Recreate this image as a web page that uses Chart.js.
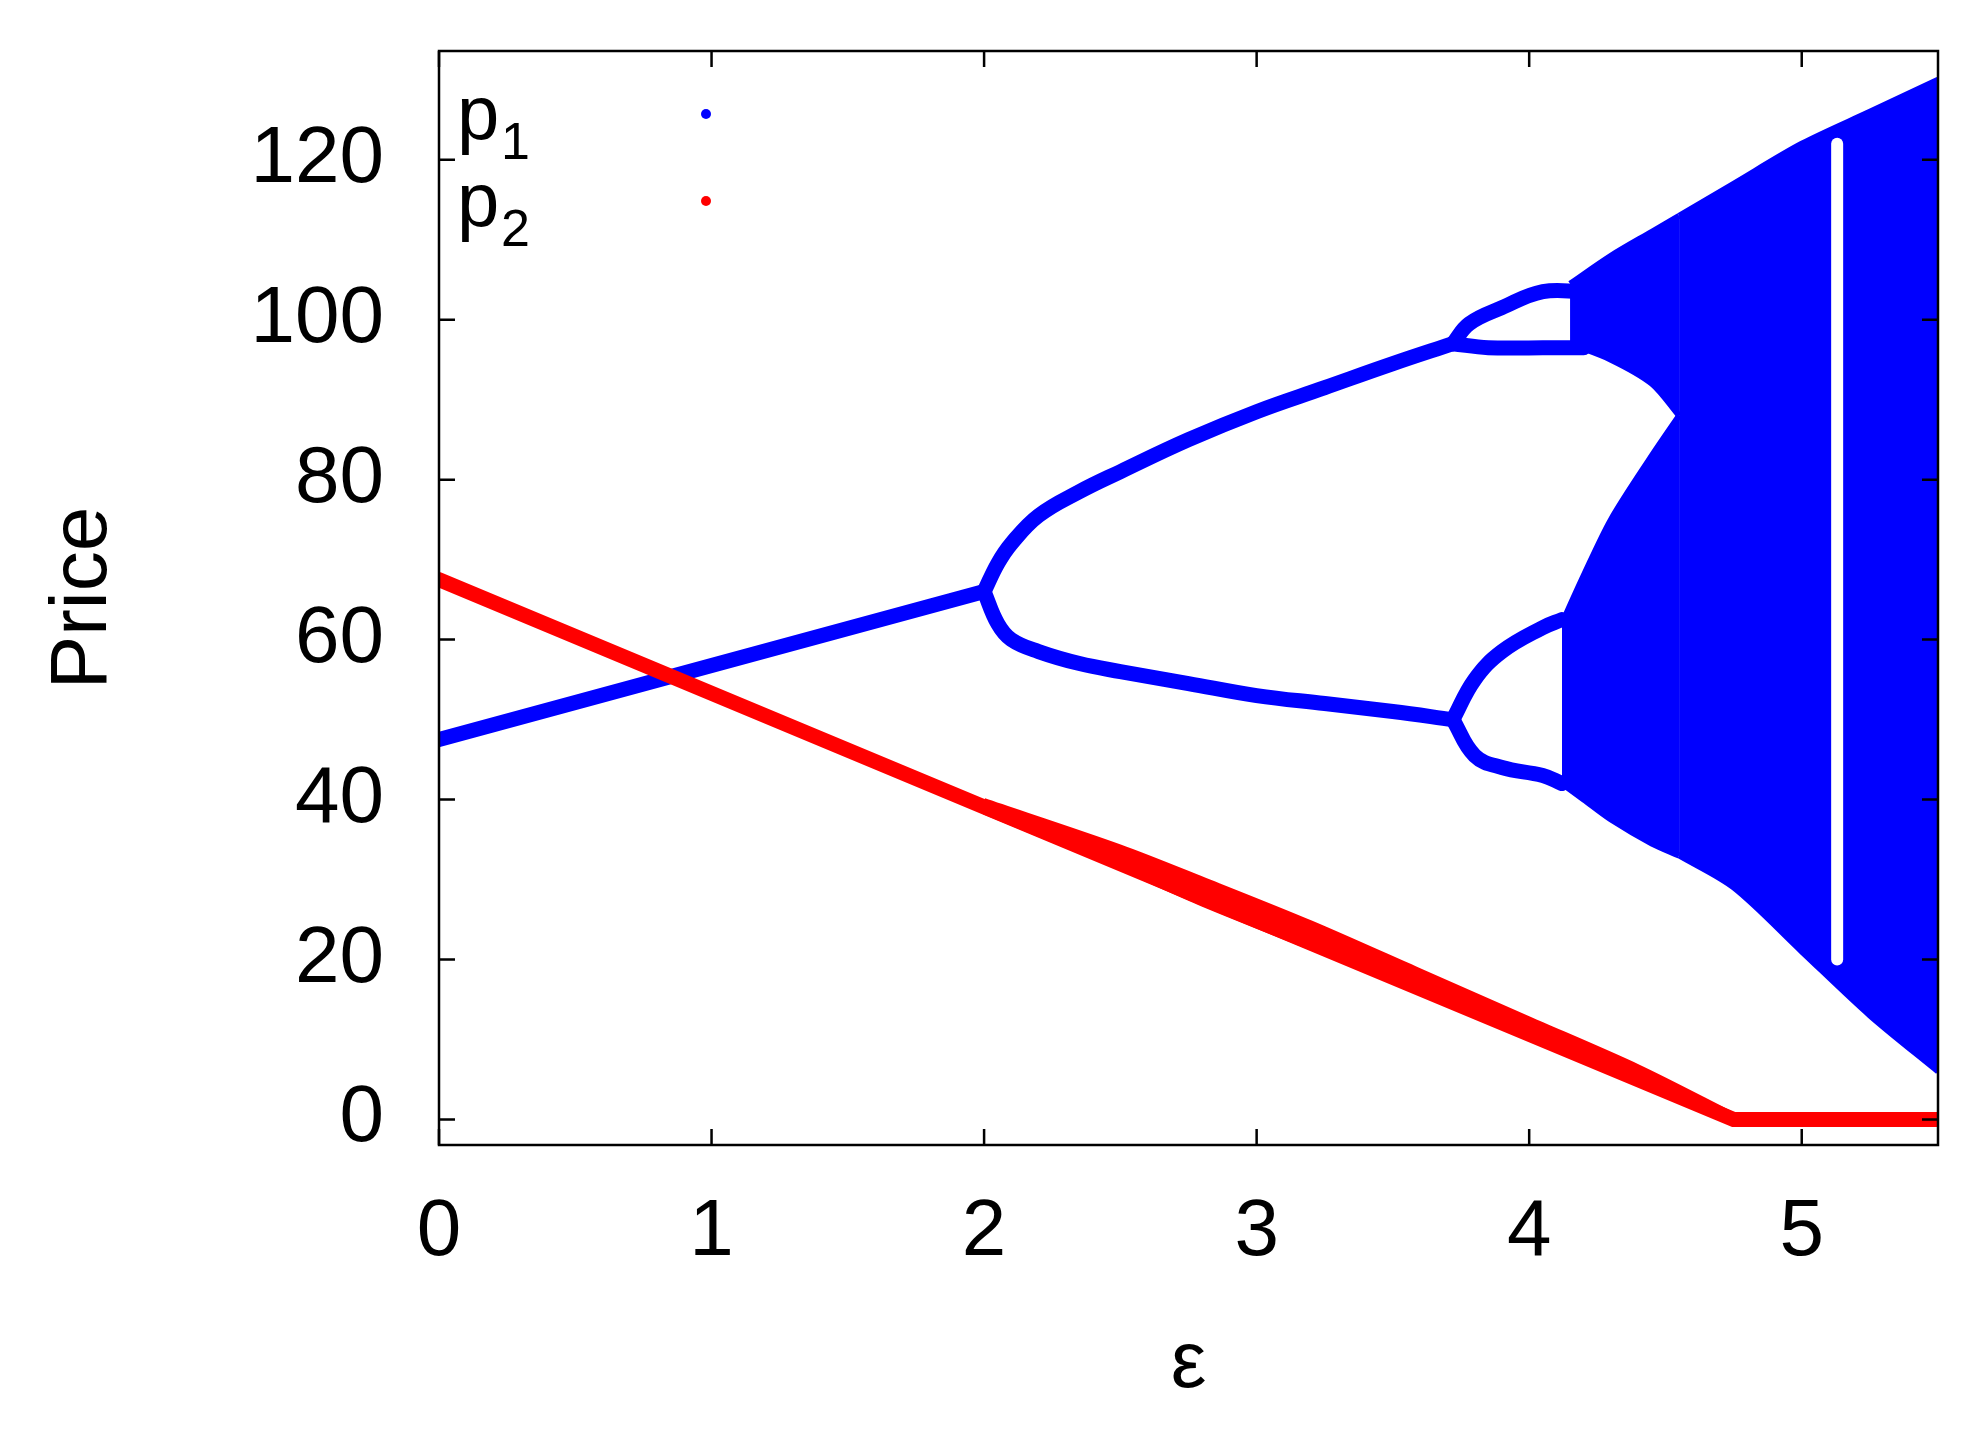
<!DOCTYPE html>
<html>
<head>
<meta charset="utf-8">
<script src="https://cdn.jsdelivr.net/npm/chart.js@4/dist/chart.umd.min.js"></script>
<style>
  html, body { margin: 0; padding: 0; background: #fff; }
  #wrap { width: 1984px; height: 1437px; }
</style>
</head>
<body>
<div id="wrap"><canvas id="c"></canvas></div>
<script>
// values (x = epsilon, y = price)
const xTicks = [0, 1, 2, 3, 4, 5];
const yTicks = [0, 20, 40, 60, 80, 100, 120];

// p2 (red)
const p2X = [0, 4.75, 5.5];
const p2Y = [67.5, 0, 0];
const p2BandX = [2, 2.5, 2.8, 3.2, 3.6, 4.0, 4.4, 4.75];
const p2BandHi = [39.8, 34, 30, 24.5, 18.5, 12.5, 6.5, 0.5];
const p2BandLo = [38.5, 31.5, 27, 21.5, 16, 10.5, 4.8, 0];

// p1 (blue) periodic branches
const stemX = [0, 2];
const stemY = [47.5, 66];
const branchX = [2, 2.05, 2.1, 2.2, 2.35, 2.5, 2.75, 3, 3.25, 3.5, 3.72];
const upperY = [66, 69.5, 72, 75.5, 78.5, 81, 85, 88.5, 91.5, 94.5, 97];
const lowerY = [66, 62, 60, 58.5, 57, 56, 54.5, 53, 52, 51, 50];
const hiHiX = [3.72, 3.78, 3.9, 4.05, 4.2];
const hiHiY = [97, 99.5, 101.5, 103.5, 103.5];
const hiLoX = [3.72, 3.85, 4.05, 4.2];
const hiLoY = [97, 96.5, 96.5, 96.5];
const loHiX = [3.72, 3.8, 3.9, 4.05, 4.12];
const loHiY = [50, 55, 58.5, 61.5, 62.5];
const loLoX = [3.72, 3.8, 3.9, 4.05, 4.12];
const loLoY = [50, 45.5, 44, 43, 42];

// p1 chaotic bands
const topBandX = [4.15, 4.3, 4.45, 4.55];
const topBandHi = [104.5, 108, 111, 113];
const topBandLo = [97, 95, 92, 88];
const botBandX = [4.12, 4.2, 4.3, 4.45, 4.55];
const botBandHi = [62, 68, 75, 83, 88];
const botBandLo = [42, 40, 37.5, 34.5, 33];
const fullBandX = [4.55, 4.75, 5, 5.25, 5.5];
const fullBandHi = [113, 117, 122, 126, 130];
const fullBandLo = [33, 29, 21, 13, 6];
// periodic window gap
const windowX = [5.13, 5.13];
const windowY = [20, 122];

const BLUE = "#0000ff";
const RED = "#ff0000";

function pts(xs, ys) {
  return xs.map((x, i) => ({ x: x, y: ys[i] }));
}
function line(xs, ys, color, width, order, tension) {
  return { data: pts(xs, ys), borderColor: color, borderWidth: width, showLine: true,
    pointRadius: 0, fill: false, order: order, tension: tension || 0, borderCapStyle: "round" };
}
function band(xs, hi, lo, color, order) {
  return [
    { data: pts(xs, hi), borderColor: color, borderWidth: 6, showLine: true, pointRadius: 0, fill: false, order: order, tension: 0.3 },
    { data: pts(xs, lo), borderColor: color, borderWidth: 6, showLine: true, pointRadius: 0,
      fill: "-1", backgroundColor: color, order: order, tension: 0.3 },
  ];
}

const datasets = [
  line(p2X, p2Y, RED, 15, 1),
  ...band(p2BandX, p2BandHi, p2BandLo, RED, 1),
  line(windowX, windowY, "#ffffff", 12, 2),
  line(stemX, stemY, BLUE, 15, 3),
  line(branchX, upperY, BLUE, 15, 3, 0.4),
  line(branchX, lowerY, BLUE, 15, 3, 0.4),
  line(hiHiX, hiHiY, BLUE, 15, 3, 0.4),
  line(hiLoX, hiLoY, BLUE, 15, 3, 0.4),
  line(loHiX, loHiY, BLUE, 15, 3, 0.4),
  line(loLoX, loLoY, BLUE, 15, 3, 0.4),
  ...band(topBandX, topBandHi, topBandLo, BLUE, 3),
  ...band(botBandX, botBandHi, botBandLo, BLUE, 3),
  ...band(fullBandX, fullBandHi, fullBandLo, BLUE, 3),
];

const frame = {
  id: "frame",
  afterDraw(chart) {
    const { ctx, chartArea: a, scales } = chart;
    ctx.save();
    ctx.strokeStyle = "#000";
    ctx.lineWidth = 2.5;
    ctx.strokeRect(a.left, a.top, a.right - a.left, a.bottom - a.top);
    const t = 16;
    ctx.beginPath();
    xTicks.forEach((v) => {
      const px = scales.x.getPixelForValue(v);
      ctx.moveTo(px, a.bottom); ctx.lineTo(px, a.bottom - t);
      ctx.moveTo(px, a.top); ctx.lineTo(px, a.top + t);
    });
    yTicks.forEach((v) => {
      const py = scales.y.getPixelForValue(v);
      ctx.moveTo(a.left, py); ctx.lineTo(a.left + t, py);
      ctx.moveTo(a.right, py); ctx.lineTo(a.right - t, py);
    });
    ctx.stroke();
    // legend
    ctx.fillStyle = "#000";
    ctx.font = "76px 'Liberation Sans', Arial";
    ctx.textBaseline = "alphabetic";
    ctx.fillText("p", a.left + 18, a.top + 88);
    ctx.fillText("p", a.left + 18, a.top + 175);
    ctx.font = "52px 'Liberation Sans', Arial";
    ctx.fillText("1", a.left + 62, a.top + 108);
    ctx.fillText("2", a.left + 62, a.top + 195);
    ctx.fillStyle = BLUE;
    ctx.beginPath(); ctx.arc(a.left + 267, a.top + 63, 5, 0, 2 * Math.PI); ctx.fill();
    ctx.fillStyle = RED;
    ctx.beginPath(); ctx.arc(a.left + 267, a.top + 150, 5, 0, 2 * Math.PI); ctx.fill();
    ctx.restore();
  },
};

const tickFont = { family: "'Liberation Sans', Arial", size: 80 };

new Chart(document.getElementById("c"), {
  type: "scatter",
  data: { datasets: datasets },
  options: {
    responsive: true,
    maintainAspectRatio: false,
    animation: false,
    layout: { padding: { top: 51, right: 46, left: 32, bottom: 20 } },
    plugins: { legend: { display: false }, tooltip: { enabled: false } },
    scales: {
      x: {
        type: "linear", min: 0, max: 5.5,
        afterBuildTicks: (s) => { s.ticks = xTicks.map((v) => ({ value: v })); },
        afterFit: (s) => { s.height = 272; s.paddingLeft = 0; s.paddingRight = 0; },
        grid: { display: false, drawTicks: false },
        border: { display: false },
        ticks: { color: "#000", font: tickFont, padding: 40, maxRotation: 0 },
        title: { display: true, text: "ε", color: "#000", font: tickFont, padding: { top: 0 } },
      },
      y: {
        type: "linear", min: -3.2, max: 133.6,
        afterBuildTicks: (s) => { s.ticks = yTicks.map((v) => ({ value: v })); },
        afterFit: (s) => { s.width = 407; s.paddingTop = 0; s.paddingBottom = 0; },
        grid: { display: false, drawTicks: false },
        border: { display: false },
        ticks: { color: "#000", font: tickFont, padding: 55 },
        title: { display: true, text: "Price", color: "#000", font: tickFont, padding: { bottom: 30 } },
      },
    },
  },
  plugins: [frame],
});
</script>
</body>
</html>
